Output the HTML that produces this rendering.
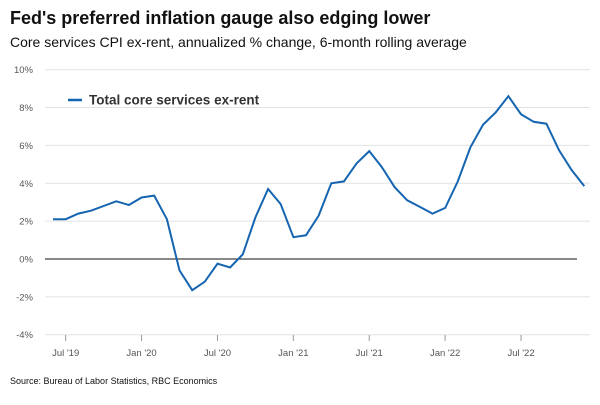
<!DOCTYPE html>
<html><head><meta charset="utf-8"><style>
body{margin:0;background:#fff;font-family:"Liberation Sans",Arial,sans-serif}
svg text{font-family:"Liberation Sans",Arial,sans-serif}
</style></head><body>
<svg id="c" width="600" height="400">
<text x="10" y="24" font-size="18" font-weight="bold" fill="#111">Fed's preferred inflation gauge also edging lower</text>
<text x="10" y="47" font-size="14" fill="#111">Core services CPI ex-rent, annualized % change, 6-month rolling average</text>
<text x="10" y="384" font-size="9" fill="#111">Source: Bureau of Labor Statistics, RBC Economics</text>
<g id="grid"></g><g id="xax"></g>
<line x1="68" y1="100" x2="82" y2="100" stroke="#1565b0" stroke-width="2.5"/>
<text x="89" y="104.5" font-size="13.5" font-weight="bold" fill="#333">Total core services ex-rent</text>
<path id="line" fill="none" stroke="#1565b0" stroke-width="2"/>
</svg>
<script>
const values=[2.1,2.1,2.4,2.55,2.8,3.05,2.85,3.25,3.35,2.1,-0.6,-1.65,-1.2,-0.25,-0.45,0.25,2.2,3.7,2.9,1.15,1.25,2.3,4.0,4.1,5.05,5.7,4.85,3.8,3.1,2.75,2.4,2.7,4.1,5.9,7.1,7.75,8.6,7.65,7.25,7.15,5.75,4.7,3.85];
const yTicks=[-4,-2,0,2,4,6,8,10];
const xTickLabels=["Jul '19","Jan '20","Jul '20","Jan '21","Jul '21","Jan '22","Jul '22"];
const xTickIdx=[1,7,13,19,25,31,37];
const NS="http://www.w3.org/2000/svg";
const x=i=>53+i*12.65, y=v=>259-v*18.93;
const grid=document.getElementById('grid'), xax=document.getElementById('xax');
yTicks.forEach(t=>{
 const l=document.createElementNS(NS,'line');
 l.setAttribute('x1',45);l.setAttribute('x2',t===0?577:590);l.setAttribute('y1',y(t));l.setAttribute('y2',y(t));
 l.setAttribute('stroke',t===0?'#111':'#e2e2e2');l.setAttribute('stroke-width',1);
 
 
 grid.appendChild(l);
 const tx=document.createElementNS(NS,'text');
 tx.setAttribute('x',33);tx.setAttribute('y',y(t)+3.5);tx.setAttribute('text-anchor','end');tx.setAttribute('font-size',9.5);tx.setAttribute('fill','#555');
 tx.textContent=t+'%';
 
 
 grid.appendChild(tx);
});
xTickIdx.forEach((idx,k)=>{
 const l=document.createElementNS(NS,'line');
 l.setAttribute('x1',x(idx));l.setAttribute('x2',x(idx));l.setAttribute('y1',335);l.setAttribute('y2',341);l.setAttribute('stroke','#999');
 
 
 xax.appendChild(l);
 const tx=document.createElementNS(NS,'text');
 tx.setAttribute('x',x(idx));tx.setAttribute('y',356);tx.setAttribute('text-anchor','middle');tx.setAttribute('font-size',9.5);tx.setAttribute('fill','#555');
 tx.textContent=xTickLabels[k];
 
 
 xax.appendChild(tx);
});
document.getElementById('line').setAttribute('d',values.map((v,i)=>(i?'L':'M')+x(i).toFixed(1)+','+y(v).toFixed(1)).join(''));
</script>
</body></html>
